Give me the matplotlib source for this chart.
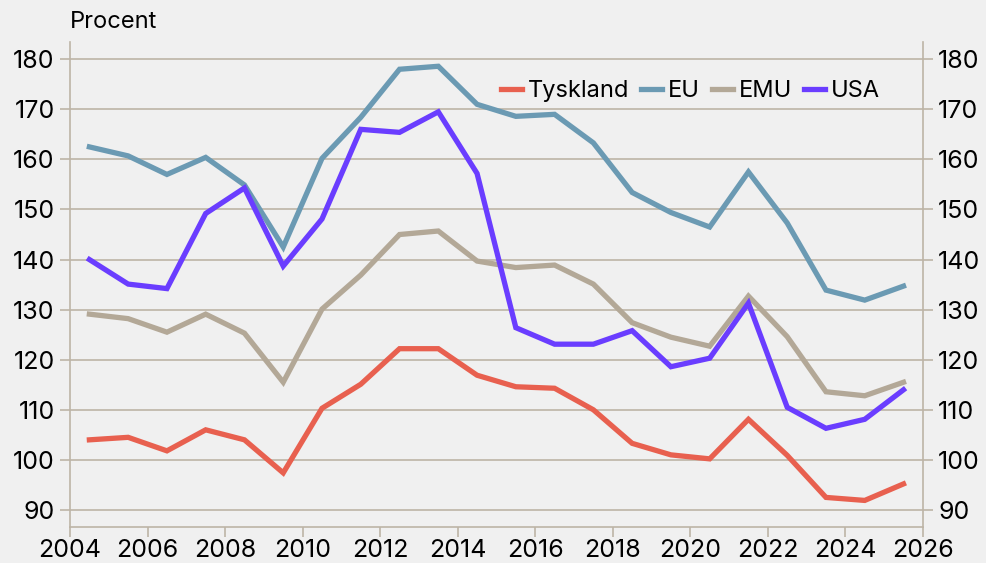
import numpy as np
import matplotlib
matplotlib.use("Agg")
from matplotlib import pyplot as plt

plt.rcParams['font.family'] = ['Inter', 'DejaVu Sans']

years = np.arange(2004.5, 2026, 1.0)  # mid-year points 2004.5 .. 2025.5

tyskland = [104.0, 104.5, 101.8, 106.0, 104.0, 97.4, 110.3, 115.1, 122.2, 122.2, 116.9,
            114.6, 114.3, 110.0, 103.3, 101.0, 100.2, 108.1, 100.9, 92.5, 91.9, 95.2]
eu = [162.5, 160.7, 157.0, 160.4, 154.9, 142.5, 160.2, 168.4, 178.0, 178.6, 171.0,
      168.6, 169.0, 163.3, 153.4, 149.4, 146.5, 157.5, 147.3, 133.9, 131.9, 134.7]
emu = [129.1, 128.2, 125.5, 129.1, 125.3, 115.5, 130.1, 136.9, 145.0, 145.7, 139.7,
       138.4, 138.9, 135.1, 127.4, 124.5, 122.7, 132.7, 124.6, 113.6, 112.8, 115.5]
usa = [140.0, 135.1, 134.2, 149.2, 154.3, 138.7, 148.1, 166.0, 165.4, 169.5, 157.2,
       126.4, 123.1, 123.1, 125.8, 118.6, 120.3, 131.3, 110.5, 106.3, 108.1, 114.0]

names = ['Tyskland', 'EU', 'EMU', 'USA']
colors = ['#e8604f', '#6b9ab3', '#b3a897', '#6a3dff']
yticks = [90, 100, 110, 120, 130, 140, 150, 160, 170, 180]
xticks = list(range(2004, 2027, 2))

bg = '#f0f0f0'
grid = '#bdb4a6'

fig = plt.figure(figsize=(9.86, 5.63), dpi=100, facecolor=bg)
ax = fig.add_axes([0.071, 0.064, 0.865, 0.861], facecolor=bg)

for name, vals, c in zip(names, [tyskland, eu, emu, usa], colors):
    ax.plot(years, vals, color=c, lw=3.8, label=name, solid_joinstyle='miter')

ax.set_xlim(2004, 2026)
ax.set_ylim(86.6, 183.4)
ax.set_yticks(yticks)
ax.set_xticks(xticks)
ax.grid(axis='y', color=grid, lw=1.2)
ax.set_axisbelow(True)

ax.spines['top'].set_visible(False)
for s in ['left', 'right', 'bottom']:
    ax.spines[s].set_color(grid)
    ax.spines[s].set_linewidth(1.2)

ax.tick_params(axis='both', colors=grid, labelcolor='black', labelsize=18,
               length=7, width=1.2)
ax.tick_params(axis='y', right=True, labelright=True, pad=4)
ax.tick_params(axis='x', pad=2)

ax.text(0.0, 1.02, 'Procent', transform=ax.transAxes, fontsize=17, va='bottom', ha='left')

leg = ax.legend(loc='upper right', bbox_to_anchor=(0.975, 0.965), ncol=4, frameon=False,
                fontsize=17, handlelength=0.9, handletextpad=0.25, columnspacing=0.5)

fig.savefig('out.png', dpi=100, facecolor=bg)
